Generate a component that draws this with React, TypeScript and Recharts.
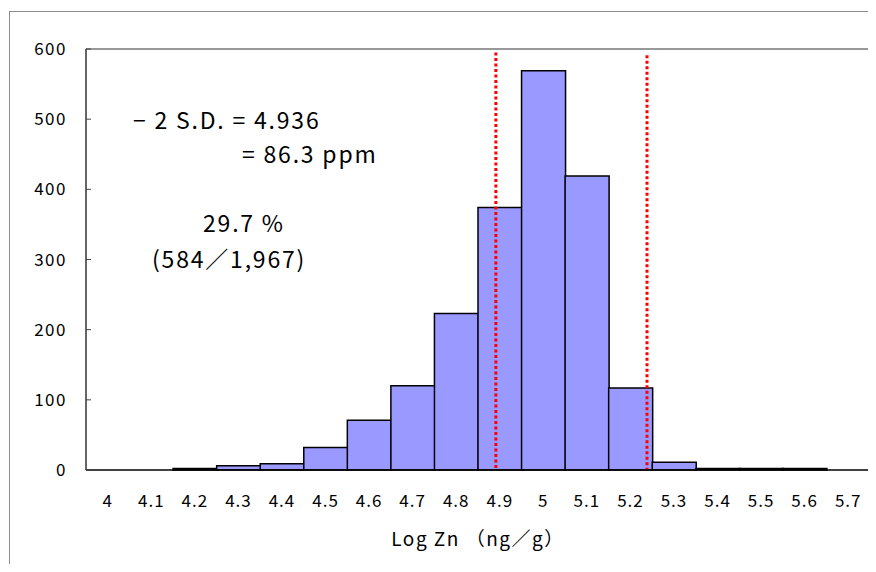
import React from 'react';
import {
  BarChart,
  Bar,
  XAxis,
  YAxis,
  ReferenceLine,
} from 'recharts';

// histogram bins (log10 Zn, ng/g) and counts
const bins = ['4', '4.1', '4.2', '4.3', '4.4', '4.5', '4.6', '4.7', '4.8', '4.9', '5', '5.1', '5.2', '5.3', '5.4', '5.5', '5.6', '5.7'];
const counts = [0, 0, 2, 6, 9, 32, 71, 120, 223, 374, 569, 419, 117, 11, 2, 2, 2, 0];
const yTicks = [0, 100, 200, 300, 400, 500, 600];
const binEdges = [4.05, 4.15, 4.25, 4.35, 4.45, 4.55, 4.65, 4.75, 4.85, 4.95, 5.05, 5.15, 5.25, 5.35, 5.45, 5.55, 5.65];
const cutLines = [4.891, 5.238];

const data = bins.map((b, i) => ({ bin: b, count: counts[i] }));

const font = '"Noto Sans CJK JP", "Noto Sans", sans-serif';

const noteStyle: React.CSSProperties = {
  position: 'absolute',
  fontFamily: font,
  fontSize: 23,
  letterSpacing: 1.8,
  lineHeight: '26px',
  color: '#000',
  whiteSpace: 'nowrap',
};

export default function App() {
  return (
    <div style={{ position: 'relative', width: 860, height: 556, overflow: 'hidden', background: '#fff' }}>
      {/* outer chart frame, cut off at the right and bottom like the source */}
      <div style={{ position: 'absolute', left: 1, top: 3, width: 900, height: 600, border: '1px solid #8c8c8c' }} />
      <div style={{ position: 'absolute', left: 0, top: 0 }}>
        <BarChart
          width={870}
          height={556}
          data={data}
          barCategoryGap={0}
          margin={{ top: 41, right: 8, left: 18, bottom: 0 }}
        >
          <XAxis
            xAxisId="num"
            type="number"
            dataKey="x"
            domain={[3.95, 5.75]}
            ticks={binEdges}
            allowDataOverflow
            height={0}
            tickSize={-5}
            tick={false}
            axisLine={false}
            stroke="#555"
          />
          <XAxis
            dataKey="bin"
            height={94}
            tickLine={false}
            axisLine={{ stroke: '#000', strokeWidth: 1.5 }}
            tickMargin={19}
            interval={0}
            tick={{ fill: '#000', fontSize: 17, fontFamily: font, letterSpacing: 1 }}
            label={{ value: 'Log Zn （ng／g）', position: 'insideBottom', offset: 18, fill: '#000', fontSize: 19, fontFamily: font, letterSpacing: 1.5 }}
          />
          <YAxis
            domain={[0, 600]}
            ticks={yTicks}
            width={60}
            tickSize={-5}
            tickMargin={24}
            stroke="#444"
            axisLine={{ stroke: '#333', strokeWidth: 1.5 }}
            tick={{ fill: '#000', fontSize: 17, fontFamily: font, letterSpacing: 1.5 }}
          />
          <ReferenceLine y={600} stroke="#999" strokeWidth={2} />
          <ReferenceLine xAxisId="num" x={5.75} stroke="#999" strokeWidth={2} />
          <Bar
            dataKey="count"
            fill="#9999ff"
            stroke="#000"
            strokeWidth={1.5}
            isAnimationActive={false}
          />
          {cutLines.map((c, i) => (
            <ReferenceLine
              key={c}
              xAxisId="num"
              segment={[{ x: c, y: i === 0 ? 595 : 591 }, { x: c, y: 0 }]}
              stroke="#ff0000"
              strokeWidth={3}
              strokeDasharray="3 2.5"
            />
          ))}
        </BarChart>
      </div>
      <div style={{ ...noteStyle, left: 125, top: 98 }}>−  2 S.D. = 4.936</div>
      <div style={{ ...noteStyle, left: 234, top: 132 }}>= 86.3 ppm</div>
      <div style={{ ...noteStyle, left: 195, top: 201 }}>29.7 %</div>
      <div style={{ ...noteStyle, left: 144, top: 237 }}>(584／1,967)</div>
    </div>
  );
}
